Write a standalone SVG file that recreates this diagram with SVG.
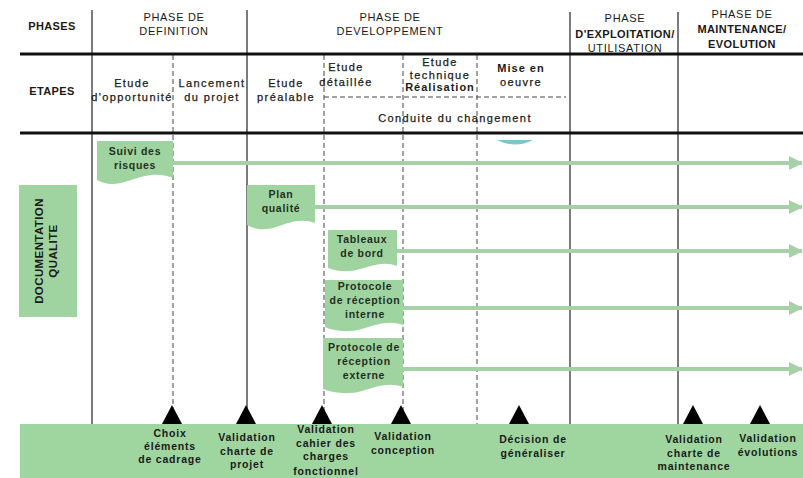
<svg xmlns="http://www.w3.org/2000/svg" width="803" height="478" viewBox="0 0 803 478">
<style>
text{font-family:"Liberation Sans",Arial,sans-serif;fill:#1a1a1a;text-anchor:middle}
.h{font-size:11px;letter-spacing:0.7px}
.hb{font-size:11px;font-weight:bold;letter-spacing:0.4px}
.e{font-size:11px;letter-spacing:1.4px;stroke:#1a1a1a;stroke-width:0.25px}
.eb{font-size:11px;font-weight:bold;letter-spacing:1px}
.d{font-size:10.5px;font-weight:bold;letter-spacing:0.7px;fill:#1f2f1f}
.m{font-size:10.5px;font-weight:bold;letter-spacing:0.8px}
.solid{stroke:#333;stroke-width:1.3;fill:none}
.thick{stroke:#111;stroke-width:3;fill:none}
.dash{stroke:#444;stroke-width:1;stroke-dasharray:5 3;fill:none}
.doc{fill:#9fd4a0}
.arr{stroke:#a6d0a6;stroke-width:4;fill:none}
.tri{fill:#000}
</style>
<defs>
<marker id="ah" markerWidth="14" markerHeight="14" refX="13" refY="7" orient="auto" markerUnits="userSpaceOnUse">
<path d="M0,0 L14,7 L0,14 Z" fill="#a6d0a6"/>
</marker>
</defs>
<rect width="803" height="478" fill="#fff"/>

<g id="grid">
<line class="solid" x1="92" y1="10" x2="92" y2="424"/>
<line class="solid" x1="247" y1="10" x2="247" y2="424"/>
<line class="solid" x1="570" y1="12" x2="570" y2="424"/>
<line class="solid" x1="678" y1="12" x2="678" y2="424"/>
<line class="dash" x1="173" y1="55" x2="173" y2="424"/>
<line class="dash" x1="324" y1="55" x2="324" y2="424"/>
<line class="dash" x1="403" y1="55" x2="403" y2="424"/>
<line class="dash" x1="477" y1="55" x2="477" y2="424"/>
<line class="dash" x1="324" y1="97" x2="566" y2="97"/>
<line class="thick" x1="20" y1="54" x2="803" y2="54"/>
<line class="thick" x1="20" y1="133" x2="803" y2="133"/>
</g>

<g id="header">
<text class="hb" x="52" y="30">PHASES</text>
<text class="h" x="174" y="21">PHASE DE</text>
<text class="h" x="174" y="35">DEFINITION</text>
<text class="h" x="390" y="21">PHASE DE</text>
<text class="h" x="390" y="35">DEVELOPPEMENT</text>
<text class="h" x="625" y="22">PHASE</text>
<text class="hb" x="625" y="38">D'EXPLOITATION/</text>
<text class="h" x="625" y="52">UTILISATION</text>
<text class="h" x="742" y="18">PHASE DE</text>
<text class="hb" x="742" y="33">MAINTENANCE/</text>
<text class="hb" x="742" y="48">EVOLUTION</text>
</g>

<g id="etapes">
<text class="hb" x="52" y="95">ETAPES</text>
<text class="e" x="132" y="87">Etude</text>
<text class="e" x="132" y="101">d'opportunité</text>
<text class="e" x="212" y="87">Lancement</text>
<text class="e" x="212" y="101">du projet</text>
<text class="e" x="286" y="87">Etude</text>
<text class="e" x="286" y="101">préalable</text>
<text class="e" x="346" y="71">Etude</text>
<text class="e" x="346" y="86">détaillée</text>
<text class="e" x="440" y="66">Etude</text>
<text class="e" x="440" y="79">technique</text>
<text class="eb" x="440" y="91">Réalisation</text>
<text class="eb" x="521" y="72">Mise en</text>
<text class="e" x="521" y="86">oeuvre</text>
<text class="e" x="455" y="122">Conduite du changement</text>
</g>

<path d="M497,140 Q515,149 533,140 Z" fill="#7fc4c8"/>

<g id="doc-label">
<rect x="19" y="185" width="58" height="132" fill="#9fd4a0"/>
<text class="hb" transform="translate(43,251) rotate(-90)" style="font-size:11.5px">DOCUMENTATION</text>
<text class="hb" transform="translate(57,251) rotate(-90)" style="font-size:11.5px">QUALITE</text>
</g>

<g id="connectors">
<line class="arr" x1="173" y1="163" x2="802" y2="163" marker-end="url(#ah)"/>
<line class="arr" x1="315" y1="207" x2="802" y2="207" marker-end="url(#ah)"/>
<line class="arr" x1="397" y1="251" x2="802" y2="251" marker-end="url(#ah)"/>
<line class="arr" x1="403" y1="308" x2="802" y2="308" marker-end="url(#ah)"/>
<line class="arr" x1="403" y1="369" x2="802" y2="369" marker-end="url(#ah)"/>
</g>

<g id="suivi">
<path class="doc" d="M97,141 H173 V178 C158,172 145,175 128,181 C114,186 104,184 97,180 Z"/>
<text class="d" x="135" y="155">Suivi des</text>
<text class="d" x="135" y="169">risques</text>
</g>
<g id="plan">
<path class="doc" d="M247,185 H315 V223 C302,218 290,222 276,227 C264,231 254,229 247,225 Z"/>
<text class="d" x="281" y="198">Plan</text>
<text class="d" x="281" y="212">qualité</text>
</g>
<g id="tableaux">
<path class="doc" d="M328,230 H397 V266 C385,261 373,265 360,269 C348,273 336,271 328,268 Z"/>
<text class="d" x="362" y="243">Tableaux</text>
<text class="d" x="362" y="257">de bord</text>
</g>
<g id="proto-interne">
<path class="doc" d="M325,280 H403 V325 C390,320 377,324 362,329 C348,333 334,331 325,327 Z"/>
<text class="d" x="365" y="290">Protocole</text>
<text class="d" x="365" y="304">de réception</text>
<text class="d" x="365" y="318">interne</text>
</g>
<g id="proto-externe">
<path class="doc" d="M323,338 H403 V387 C390,382 377,386 362,391 C348,395 333,393 323,389 Z"/>
<text class="d" x="364" y="351">Protocole de</text>
<text class="d" x="364" y="365">réception</text>
<text class="d" x="364" y="379">externe</text>
</g>

<g id="milestones">
<rect x="20" y="424" width="783" height="54" fill="#9fd69f"/>
<path class="tri" d="M162,424 L172,405 L182,424 Z"/>
<path class="tri" d="M236,424 L246,405 L256,424 Z"/>
<path class="tri" d="M312,424 L322,405 L332,424 Z"/>
<path class="tri" d="M391,424 L401,405 L411,424 Z"/>
<path class="tri" d="M509,424 L519,405 L529,424 Z"/>
<path class="tri" d="M683,424 L693,405 L703,424 Z"/>
<path class="tri" d="M750,424 L760,405 L770,424 Z"/>
</g>
<g id="m-labels">
<text class="m" x="170" y="437">Choix</text>
<text class="m" x="170" y="450">éléments</text>
<text class="m" x="170" y="463">de cadrage</text>
<text class="m" x="247" y="441">Validation</text>
<text class="m" x="247" y="455">charte de</text>
<text class="m" x="247" y="468">projet</text>
<text class="m" x="326" y="433">Validation</text>
<text class="m" x="326" y="447">cahier des</text>
<text class="m" x="326" y="460">charges</text>
<text class="m" x="326" y="475">fonctionnel</text>
<text class="m" x="403" y="440">Validation</text>
<text class="m" x="403" y="454">conception</text>
<text class="m" x="533" y="443">Décision de</text>
<text class="m" x="533" y="457">généraliser</text>
<text class="m" x="694" y="443">Validation</text>
<text class="m" x="694" y="457">charte de</text>
<text class="m" x="694" y="470">maintenance</text>
<text class="m" x="768" y="442">Validation</text>
<text class="m" x="768" y="456">évolutions</text>
</g>
</svg>
